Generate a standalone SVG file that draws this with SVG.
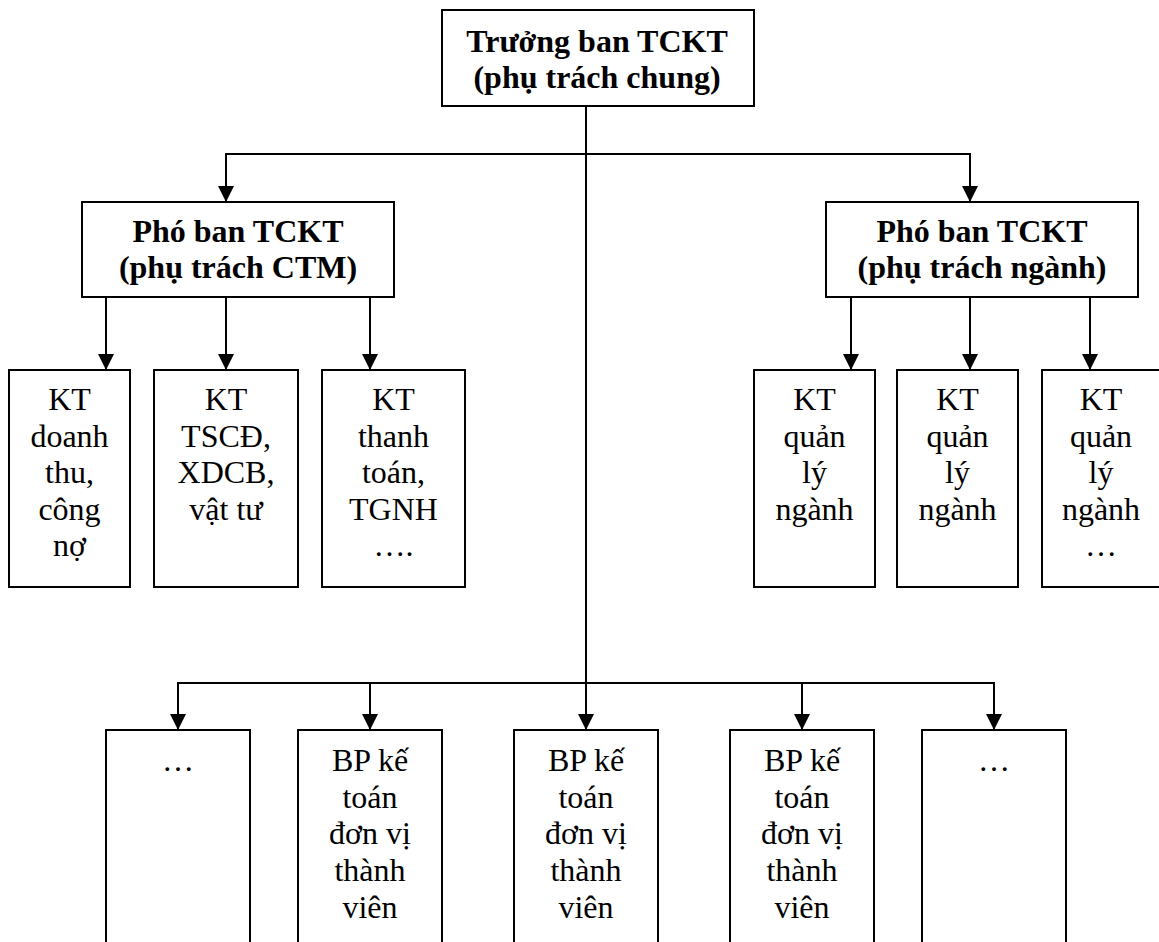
<svg xmlns="http://www.w3.org/2000/svg" width="1159" height="942" viewBox="0 0 1159 942">
<style>
.box{fill:#fff;stroke:#000;stroke-width:2}
.ln{fill:none;stroke:#000;stroke-width:2}
text{font-family:'Liberation Serif','DejaVu Serif',serif;font-size:32px;text-anchor:middle;fill:#000}
.h{font-weight:bold}
</style>
<defs>
<marker id="arr" markerUnits="userSpaceOnUse" markerWidth="16" markerHeight="16" viewBox="0 0 16 16" refX="16" refY="8" orient="auto">
<path d="M0,0 L16,8 L0,16 z" fill="#000"/>
</marker>
</defs>
<rect width="1159" height="942" fill="#fff"/>
<g id="connectors">
<path class="ln" d="M586,106 V730" marker-end="url(#arr)"/>
<path class="ln" d="M586,154 H226 V202" marker-end="url(#arr)"/>
<path class="ln" d="M586,154 H970 V202" marker-end="url(#arr)"/>
<path class="ln" d="M106,297 V370" marker-end="url(#arr)"/>
<path class="ln" d="M226,297 V370" marker-end="url(#arr)"/>
<path class="ln" d="M370,297 V370" marker-end="url(#arr)"/>
<path class="ln" d="M851,297 V370" marker-end="url(#arr)"/>
<path class="ln" d="M970,297 V370" marker-end="url(#arr)"/>
<path class="ln" d="M1090,297 V370" marker-end="url(#arr)"/>
<path class="ln" d="M586,683 H178 V730" marker-end="url(#arr)"/>
<path class="ln" d="M586,683 H994 V730" marker-end="url(#arr)"/>
<path class="ln" d="M370,683 V730" marker-end="url(#arr)"/>
<path class="ln" d="M802,683 V730" marker-end="url(#arr)"/>
</g>
<g id="truong-ban">
<rect class="box" x="442" y="10" width="312" height="96"/>
<text class="h" x="597" y="52" font-family="Liberation Serif">Trưởng ban TCKT</text>
<text class="h" x="597" y="88" font-family="Liberation Serif">(phụ trách chung)</text>
</g>
<g id="pho-ban-ctm">
<rect class="box" x="82" y="202" width="312" height="95"/>
<text class="h" x="238" y="242">Phó ban TCKT</text>
<text class="h" x="238" y="278">(phụ trách CTM)</text>
</g>
<g id="pho-ban-nganh">
<rect class="box" x="826" y="202" width="312" height="95"/>
<text class="h" x="982" y="242">Phó ban TCKT</text>
<text class="h" x="982" y="278">(phụ trách ngành)</text>
</g>
<g id="kt-doanh-thu">
<rect class="box" x="9" y="370" width="121" height="217"/>
<text x="69.5" y="410">KT</text>
<text x="69.5" y="447">doanh</text>
<text x="69.5" y="483">thu,</text>
<text x="69.5" y="520">công</text>
<text x="69.5" y="556">nợ</text>
</g>
<g id="kt-tscd">
<rect class="box" x="154" y="370" width="144" height="217"/>
<text x="226" y="410">KT</text>
<text x="226" y="447">TSCĐ,</text>
<text x="226" y="483">XDCB,</text>
<text x="226" y="520">vật tư</text>
</g>
<g id="kt-thanh-toan">
<rect class="box" x="322" y="370" width="143" height="217"/>
<text x="393.5" y="410">KT</text>
<text x="393.5" y="447">thanh</text>
<text x="393.5" y="483">toán,</text>
<text x="393.5" y="520">TGNH</text>
<text x="393.5" y="556">….</text>
</g>
<g id="kt-nganh-1">
<rect class="box" x="754" y="370" width="121" height="217"/>
<text x="814.5" y="410">KT</text>
<text x="814.5" y="447">quản</text>
<text x="814.5" y="483">lý</text>
<text x="814.5" y="520">ngành</text>
</g>
<g id="kt-nganh-2">
<rect class="box" x="897" y="370" width="121" height="217"/>
<text x="957.5" y="410">KT</text>
<text x="957.5" y="447">quản</text>
<text x="957.5" y="483">lý</text>
<text x="957.5" y="520">ngành</text>
</g>
<g id="kt-nganh-3">
<rect class="box" x="1042" y="370" width="121" height="217"/>
<text x="1101" y="410">KT</text>
<text x="1101" y="447">quản</text>
<text x="1101" y="483">lý</text>
<text x="1101" y="520">ngành</text>
<text x="1101" y="556">…</text>
</g>
<g id="bp-1">
<rect class="box" x="106" y="730" width="144" height="230"/>
<text x="178" y="771">…</text>
</g>
<g id="bp-2">
<rect class="box" x="298" y="730" width="144" height="230"/>
<text x="370" y="771">BP kế</text>
<text x="370" y="808">toán</text>
<text x="370" y="844">đơn vị</text>
<text x="370" y="881">thành</text>
<text x="370" y="918">viên</text>
</g>
<g id="bp-3">
<rect class="box" x="514" y="730" width="144" height="230"/>
<text x="586" y="771">BP kế</text>
<text x="586" y="808">toán</text>
<text x="586" y="844">đơn vị</text>
<text x="586" y="881">thành</text>
<text x="586" y="918">viên</text>
</g>
<g id="bp-4">
<rect class="box" x="730" y="730" width="144" height="230"/>
<text x="802" y="771">BP kế</text>
<text x="802" y="808">toán</text>
<text x="802" y="844">đơn vị</text>
<text x="802" y="881">thành</text>
<text x="802" y="918">viên</text>
</g>
<g id="bp-5">
<rect class="box" x="922" y="730" width="144" height="230"/>
<text x="994" y="771">…</text>
</g>
</svg>
